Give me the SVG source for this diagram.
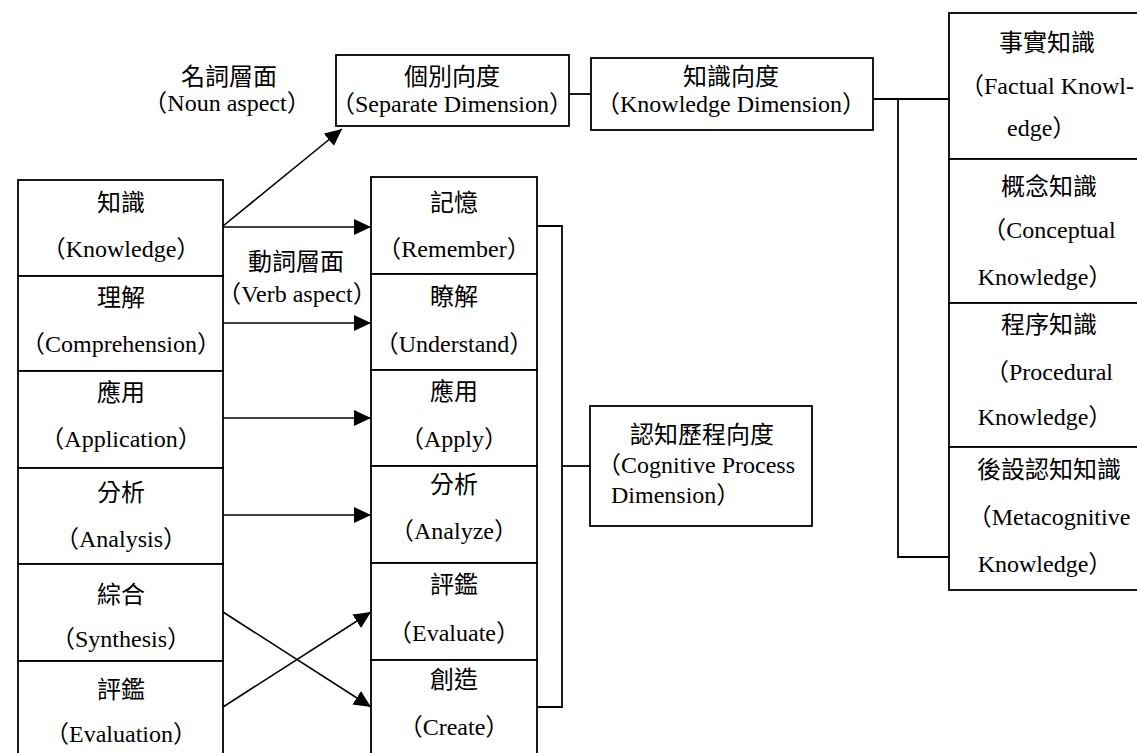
<svg xmlns="http://www.w3.org/2000/svg" width="1137" height="753" viewBox="0 0 1137 753">
<style>
.box{fill:#fff;stroke:#000;stroke-width:1.8}
.t{font-family:"Liberation Serif","Noto Sans CJK TC",serif;font-size:24px;text-anchor:middle;fill:#000}
.s{text-anchor:start}
.ln{fill:none;stroke:#000;stroke-width:1.8}
.ar{fill:none;stroke:#000;stroke-width:1.6;marker-end:url(#ah)}
</style>
<defs>
<marker id="ah" markerUnits="userSpaceOnUse" markerWidth="20" markerHeight="18" refX="17" refY="8" orient="auto">
<path d="M0,0 L17,8 L0,16 Z" fill="#000"/>
</marker>
</defs>
<rect width="1137" height="753" fill="#fff"/>

<g id="connectors">
<line class="ln" x1="569" y1="94" x2="591" y2="94"/>
<polyline class="ln" points="873,99 949,99"/>
<polyline class="ln" points="898,99 898,557 949,557"/>
<polyline class="ln" points="537,226 562,226 562,707 537,707"/>
<line class="ln" x1="562" y1="466" x2="590" y2="466"/>
<line class="ar" x1="223" y1="226" x2="342" y2="129"/>
<line class="ar" x1="223" y1="227" x2="371" y2="227"/>
<line class="ar" x1="223" y1="323" x2="371" y2="323"/>
<line class="ar" x1="223" y1="418" x2="371" y2="418"/>
<line class="ar" x1="223" y1="515" x2="371" y2="515"/>
<line class="ar" x1="223" y1="612" x2="371" y2="707"/>
<line class="ar" x1="223" y1="707" x2="371" y2="612"/>
</g>

<g id="noun-label">
<text class="t" x="229" y="85">名詞層面</text>
<text class="t" x="227" y="111">（Noun aspect）</text>
</g>
<g id="verb-label">
<text class="t" x="296" y="270">動詞層面</text>
<text class="t" x="297" y="302">（Verb aspect）</text>
</g>

<g id="separate-dimension">
<rect class="box" x="336" y="55" width="233" height="71"/>
<text class="t" x="452" y="85">個別向度</text>
<text class="t" x="452" y="112">（Separate Dimension）</text>
</g>
<g id="knowledge-dimension">
<rect class="box" x="591" y="58" width="282" height="72"/>
<text class="t" x="731" y="85">知識向度</text>
<text class="t" x="731" y="112">（Knowledge Dimension）</text>
</g>

<g id="l-knowledge"><rect class="box" x="18" y="180" width="205" height="96"/>
<text class="t" x="121" y="211">知識</text><text class="t" x="121" y="257">（Knowledge）</text></g>
<g id="l-comprehension"><rect class="box" x="18" y="276" width="205" height="95"/>
<text class="t" x="121" y="306">理解</text><text class="t" x="121" y="352">（Comprehension）</text></g>
<g id="l-application"><rect class="box" x="18" y="371" width="205" height="97"/>
<text class="t" x="121" y="401">應用</text><text class="t" x="121" y="447">（Application）</text></g>
<g id="l-analysis"><rect class="box" x="18" y="468" width="205" height="96"/>
<text class="t" x="121" y="501">分析</text><text class="t" x="121" y="547">（Analysis）</text></g>
<g id="l-synthesis"><rect class="box" x="18" y="564" width="205" height="97"/>
<text class="t" x="121" y="603">綜合</text><text class="t" x="121" y="647">（Synthesis）</text></g>
<g id="l-evaluation"><rect class="box" x="18" y="661" width="205" height="100"/>
<text class="t" x="121" y="698">評鑑</text><text class="t" x="121" y="742">（Evaluation）</text></g>

<g id="m-remember"><rect class="box" x="371" y="177" width="166" height="97"/>
<text class="t" x="454" y="211">記憶</text><text class="t" x="454" y="257">（Remember）</text></g>
<g id="m-understand"><rect class="box" x="371" y="274" width="166" height="96"/>
<text class="t" x="454" y="305">瞭解</text><text class="t" x="454" y="352">（Understand）</text></g>
<g id="m-apply"><rect class="box" x="371" y="370" width="166" height="96"/>
<text class="t" x="454" y="400">應用</text><text class="t" x="454" y="447">（Apply）</text></g>
<g id="m-analyze"><rect class="box" x="371" y="466" width="166" height="97"/>
<text class="t" x="454" y="493">分析</text><text class="t" x="454" y="539">（Analyze）</text></g>
<g id="m-evaluate"><rect class="box" x="371" y="563" width="166" height="97"/>
<text class="t" x="454" y="593">評鑑</text><text class="t" x="454" y="641">（Evaluate）</text></g>
<g id="m-create"><rect class="box" x="371" y="660" width="166" height="100"/>
<text class="t" x="454" y="688">創造</text><text class="t" x="454" y="735">（Create）</text></g>

<g id="cognitive-process-dimension">
<rect class="box" x="590" y="406" width="222" height="120"/>
<text class="t" x="702" y="443">認知歷程向度</text>
<text class="t s" x="597" y="473">（Cognitive Process</text>
<text class="t s" x="611" y="503">Dimension）</text>
</g>

<g id="r-factual"><rect class="box" x="949" y="13" width="192" height="146"/>
<text class="t" x="1047" y="51">事實知識</text>
<text class="t" x="1047" y="94">（Factual Knowl-</text>
<text class="t s" x="1007" y="136">edge）</text></g>
<g id="r-conceptual"><rect class="box" x="949" y="159" width="192" height="144"/>
<text class="t" x="1049" y="195">概念知識</text>
<text class="t" x="1049" y="238">（Conceptual</text>
<text class="t" x="1045" y="285">Knowledge）</text></g>
<g id="r-procedural"><rect class="box" x="949" y="303" width="192" height="144"/>
<text class="t" x="1049" y="333">程序知識</text>
<text class="t" x="1049" y="380">（Procedural</text>
<text class="t" x="1045" y="425">Knowledge）</text></g>
<g id="r-metacognitive"><rect class="box" x="949" y="447" width="192" height="143"/>
<text class="t" x="1049" y="478">後設認知知識</text>
<text class="t" x="1049" y="525">（Metacognitive</text>
<text class="t" x="1045" y="572">Knowledge）</text></g>
</svg>
